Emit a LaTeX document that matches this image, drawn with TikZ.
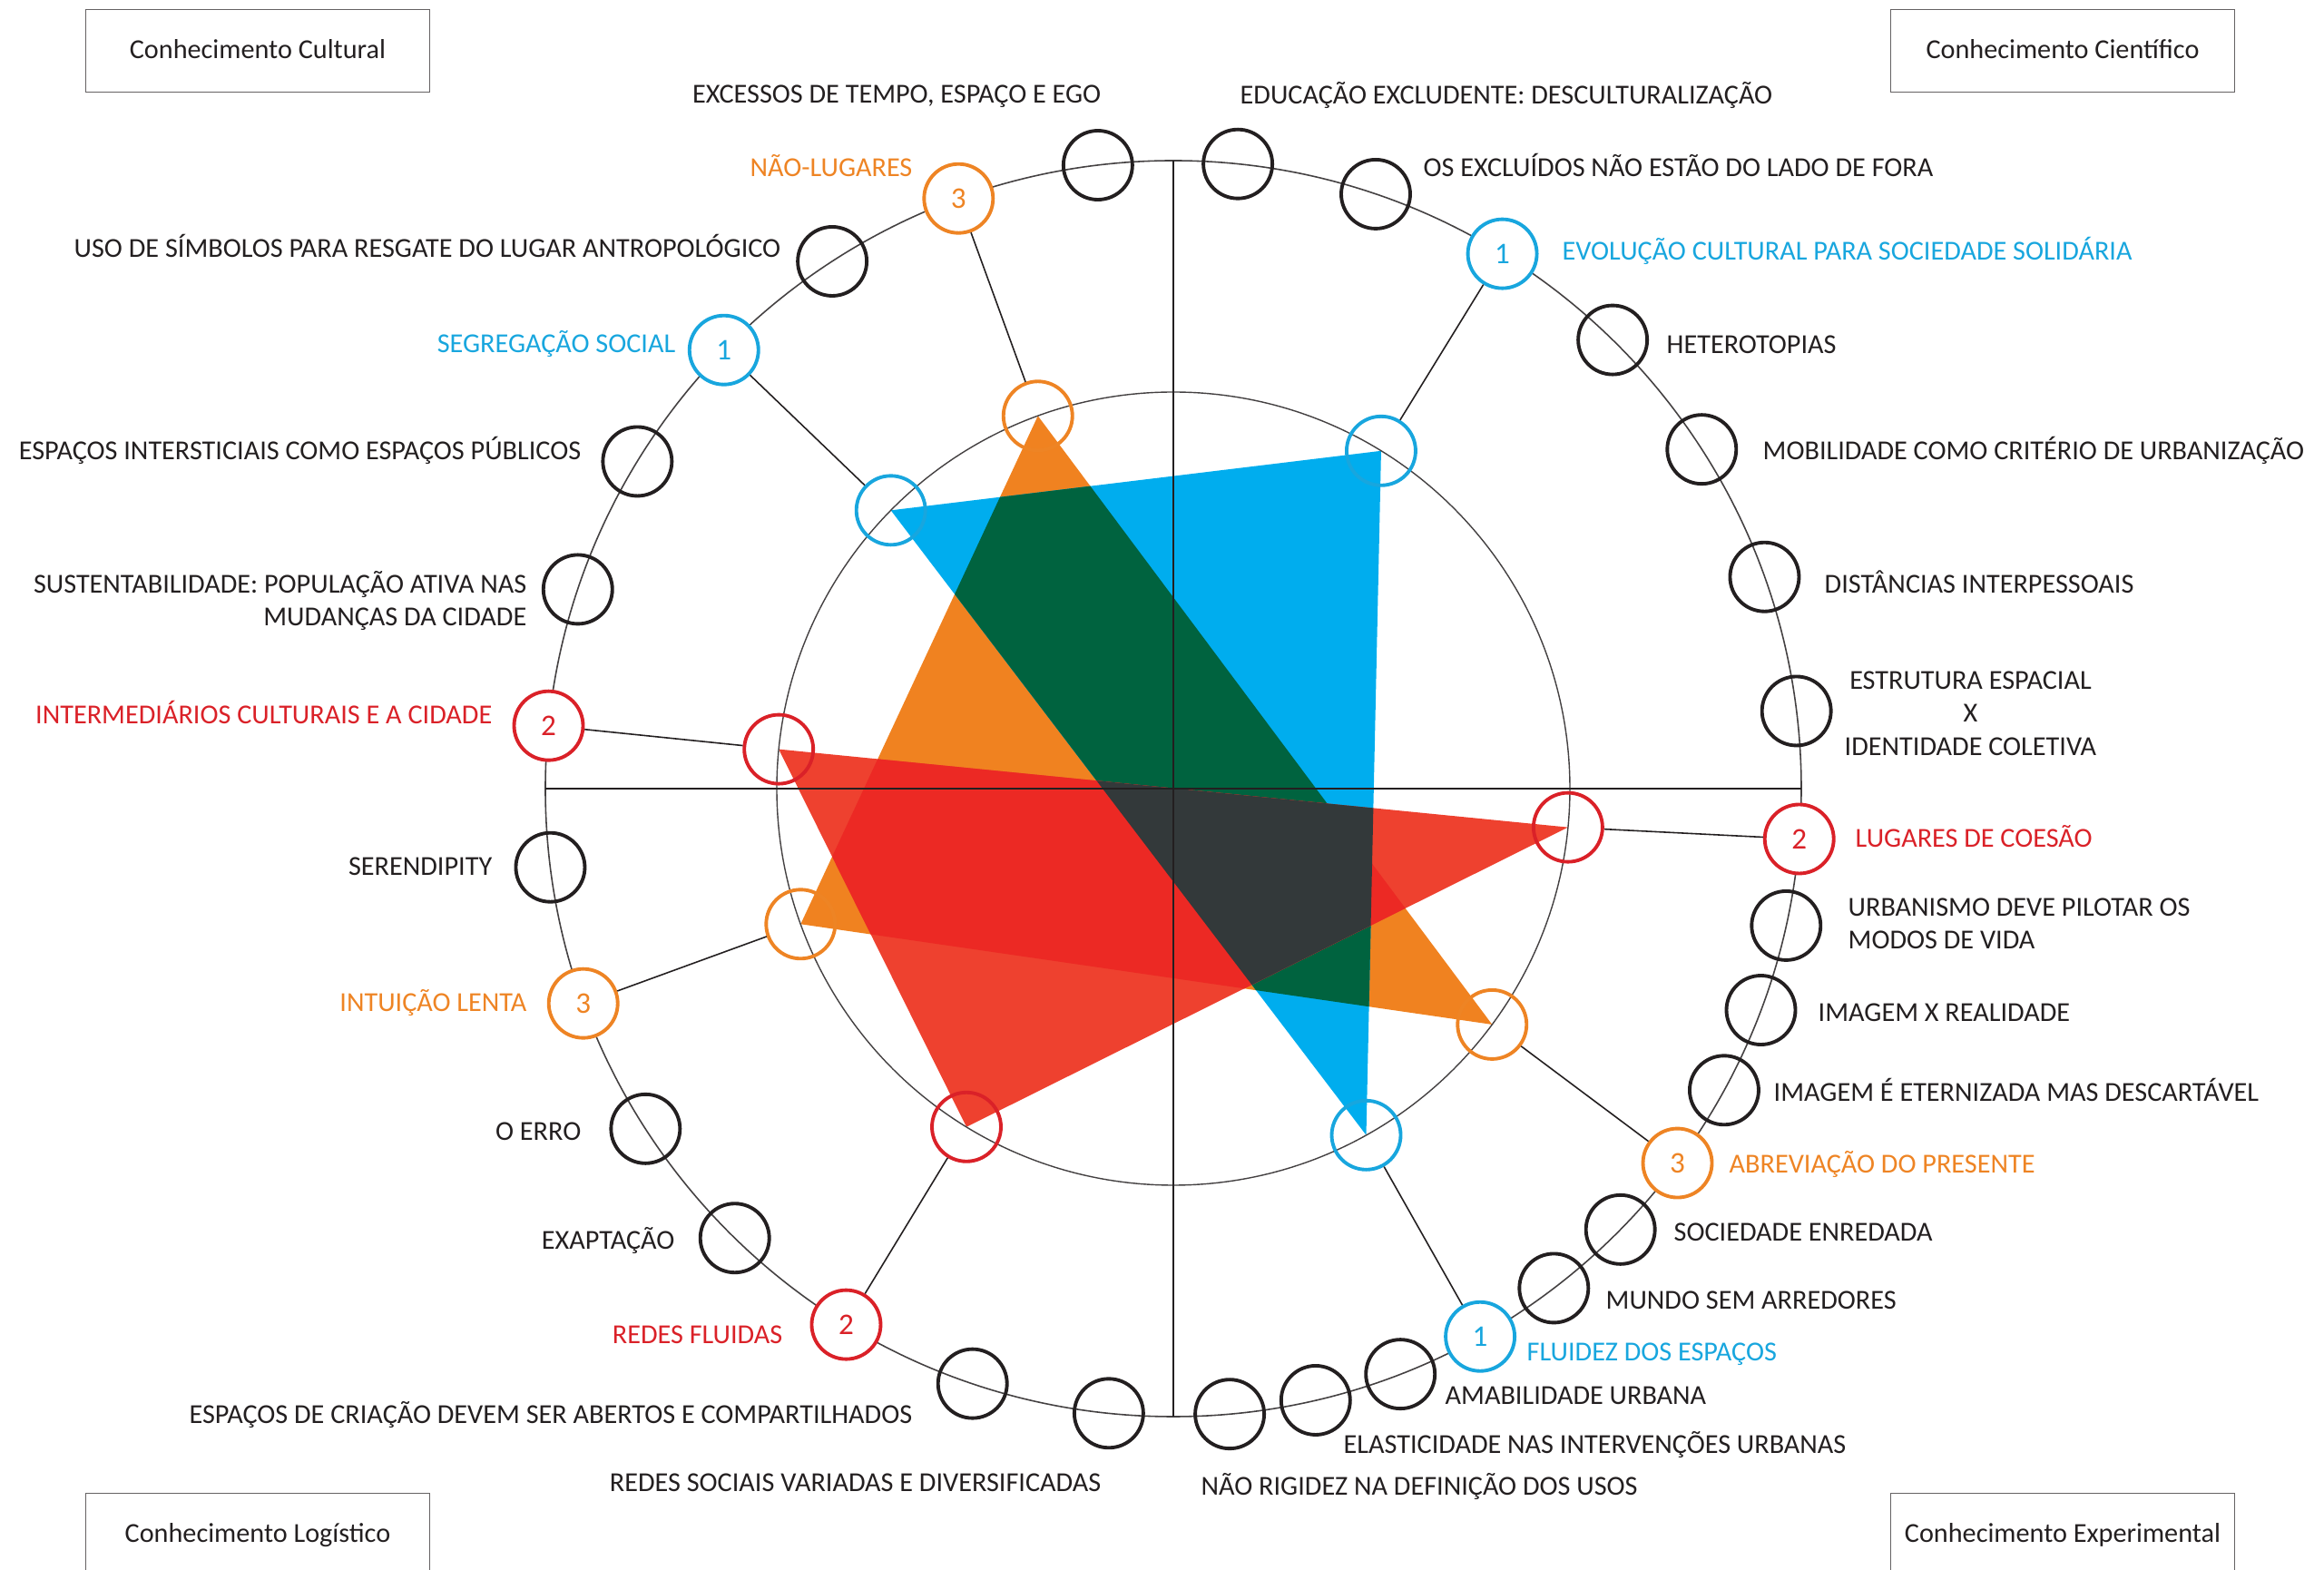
\documentclass[tikz,border=0pt]{standalone}
\usepackage{fontspec}
\setmainfont{Carlito}
\definecolor{ink}{RGB}{35,31,32}
\definecolor{oran}{RGB}{238,132,36}
\definecolor{azul}{RGB}{24,166,222}
\definecolor{verm}{RGB}{218,33,40}
\definecolor{trioran}{RGB}{240,130,32}
\definecolor{triazul}{RGB}{0,173,238}
\definecolor{trimata}{RGB}{0,99,63}
\definecolor{trived}{RGB}{238,65,47}
\definecolor{trifund}{RGB}{236,41,36}
\definecolor{trichumbo}{RGB}{51,57,58}
\begin{document}
\begin{tikzpicture}[
    ring/.style={circle,draw=ink,line width=1.1pt,minimum size=0.76cm,inner sep=0pt},
    num/.style={ring,draw=#1,fill=white,text=#1,font=\fontsize{9.4}{11}\selectfont},
    hub/.style={ring,draw=#1},
    lbl/.style={inner sep=0pt,text=ink,font=\fontsize{8.6}{10.4}\selectfont,text height=1.6ex,text depth=0.47ex},
    blk/.style={inner sep=0pt,text=ink,font=\fontsize{8.6}{10.4}\selectfont},
    card/.style={draw=ink!70,line width=0.5pt,minimum width=3.79cm,minimum height=0.91cm,inner sep=0pt,font=\fontsize{8.6}{10}\selectfont,text=ink,text height=1.6ex,text depth=0.6ex},
    link/.style={draw=ink,line width=0.45pt}
  ]
        \useasboundingbox (-12.93,-8.61) rectangle (12.68,8.69);
        \clip (-12.93,-8.61) rectangle (12.68,8.69);
        % vertices on the inner circle
        \coordinate (po) at (109.97:4.37);
        \coordinate (pol) at (199.98:4.37);
        \coordinate (por) at (-36.5:4.37);
        \coordinate (pbl) at (135.43:4.37);
        \coordinate (pbr) at (58.4:4.37);
        \coordinate (pbb) at (-60.9:4.37);
        \coordinate (prl) at (174.3:4.37);
        \coordinate (prr) at (-5.6:4.37);
        \coordinate (prb) at (238.55:4.37);
        % triangles
        \fill[trioran] (po) -- (pol) -- (por) -- cycle;
        \fill[triazul] (pbl) -- (pbr) -- (pbb) -- cycle;
        \begin{scope}
          \clip (po) -- (pol) -- (por) -- cycle;
          \fill[trimata] (pbl) -- (pbr) -- (pbb) -- cycle;
        \end{scope}
        \fill[trived] (prl) -- (prr) -- (prb) -- cycle;
        \begin{scope}
          \clip (prl) -- (prr) -- (prb) -- cycle;
          \fill[trifund] (po) -- (pol) -- (por) -- cycle;
          \fill[trichumbo] (pbl) -- (pbr) -- (pbb) -- cycle;
        \end{scope}
        % circles and axes
        \draw[ink!85,line width=0.45pt] (0,0) circle (6.92);
        \draw[ink!85,line width=0.4pt] (0,0) circle (4.37);
        \draw[ink,line width=0.5pt] (180:6.92) -- (0:6.92);
        \draw[ink,line width=0.5pt] (90:6.92) -- (270:6.92);
        % outer ring
        \draw (84.1:6.92) node[ring](ed){};
        \draw (96.9:6.92) node[ring](ex){};
        \draw (110.0:6.92) node[num=oran](nl){3};
        \draw (122.9:6.92) node[ring](us){};
        \draw (135.7:6.92) node[num=azul](sg){1};
        \draw (148.6:6.92) node[ring](ei){};
        \draw (161.5:6.92) node[ring](su){};
        \draw (174.25:6.92) node[num=verm](ic){2};
        \draw (187.2:6.92) node[ring](se){};
        \draw (200.0:6.92) node[num=oran](il){3};
        \draw (212.8:6.92) node[ring](oe){};
        \draw (225.7:6.92) node[ring](ea){};
        \draw (238.6:6.92) node[num=verm](rf){2};
        \draw (251.35:6.92) node[ring](ec){};
        \draw (264.1:6.92) node[ring](rs){};
        \draw (71.2:6.92) node[ring](ox){};
        \draw (58.4:6.92) node[num=azul](ev){1};
        \draw (45.6:6.92) node[ring](he){};
        \draw (32.7:6.92) node[ring](mo){};
        \draw (19.7:6.92) node[ring](di){};
        \draw (7.1:6.92) node[ring](es){};
        \draw (-4.6:6.92) node[num=verm](lc){2};
        \draw (-12.6:6.92) node[ring](ur){};
        \draw (-20.65:6.92) node[ring](ir){};
        \draw (-28.7:6.92) node[ring](ie){};
        \draw (-36.6:6.92) node[num=oran](ab){3};
        \draw (-44.6:6.92) node[ring](so){};
        \draw (-52.7:6.92) node[ring](mu){};
        \draw (-60.75:6.92) node[num=azul](fl){1};
        \draw (-68.8:6.92) node[ring](am){};
        \draw (-76.9:6.92) node[ring](el){};
        \draw (-84.85:6.92) node[ring](nr){};
        % inner ring
        \draw (po) node[hub=oran](ipo){};
        \draw (pol) node[hub=oran](ipol){};
        \draw (por) node[hub=oran](ipor){};
        \draw (pbl) node[hub=azul](ipbl){};
        \draw (pbr) node[hub=azul](ipbr){};
        \draw (pbb) node[hub=azul](ipbb){};
        \draw (prl) node[hub=verm](iprl){};
        \draw (prr) node[hub=verm](iprr){};
        \draw (prb) node[hub=verm](iprb){};
        \draw[link]
          (nl) -- (ipo)
          (il) -- (ipol)
          (ab) -- (ipor)
          (sg) -- (ipbl)
          (ev) -- (ipbr)
          (fl) -- (ipbb)
          (ic) -- (iprl)
          (lc) -- (iprr)
          (rf) -- (iprb)
        ;
        % labels, right half
        \draw (0.73,7.64) node[lbl,anchor=west](ted){EDUCAÇÃO EXCLUDENTE: DESCULTURALIZAÇÃO};
        \draw (2.75,6.84) node[lbl,anchor=west](tox){OS EXCLUÍDOS NÃO ESTÃO DO LADO DE FORA};
        \draw (4.28,5.92) node[lbl,anchor=west,text=azul](tev){EVOLUÇÃO CULTURAL PARA SOCIEDADE SOLIDÁRIA};
        \draw (5.43,4.89) node[lbl,anchor=west](the){HETEROTOPIAS};
        \draw (6.49,3.72) node[lbl,anchor=west](tmo){MOBILIDADE COMO CRITÉRIO DE URBANIZAÇÃO};
        \draw (7.17,2.25) node[lbl,anchor=west](tdi){DISTÂNCIAS INTERPESSOAIS};
        \draw (7.39,0.83) node[blk,anchor=west,align=center](tes){ESTRUTURA ESPACIAL\\X\\IDENTIDADE COLETIVA};
        \draw (7.51,-0.555) node[lbl,anchor=west,text=verm](tlc){LUGARES DE COESÃO};
        \draw (7.43,-1.49) node[blk,anchor=west,align=left](tur){URBANISMO DEVE PILOTAR OS\\MODOS DE VIDA};
        \draw (7.10,-2.47) node[lbl,anchor=west](tir){IMAGEM X REALIDADE};
        \draw (6.61,-3.35) node[lbl,anchor=west](tie){IMAGEM É ETERNIZADA MAS DESCARTÁVEL};
        \draw (6.12,-4.14) node[lbl,anchor=west,text=oran](tab){ABREVIAÇÃO DO PRESENTE};
        \draw (5.51,-4.89) node[lbl,anchor=west](tso){SOCIEDADE ENREDADA};
        \draw (4.76,-5.64) node[lbl,anchor=west](tmu){MUNDO SEM ARREDORES};
        \draw (3.89,-6.21) node[lbl,anchor=west,text=azul](tfl){FLUIDEZ DOS ESPAÇOS};
        \draw (2.99,-6.69) node[lbl,anchor=west](tam){AMABILIDADE URBANA};
        \draw (1.87,-7.23) node[lbl,anchor=west](tel){ELASTICIDADE NAS INTERVENÇÕES URBANAS};
        \draw (0.30,-7.69) node[lbl,anchor=west](tnr){NÃO RIGIDEZ NA DEFINIÇÃO DOS USOS};
        % labels, left half
        \draw (-0.79,7.65) node[lbl,anchor=east](tex){EXCESSOS DE TEMPO, ESPAÇO E EGO};
        \draw (-2.87,6.84) node[lbl,anchor=east,text=oran](tnl){NÃO-LUGARES};
        \draw (-4.32,5.95) node[lbl,anchor=east](tus){USO DE SÍMBOLOS PARA RESGATE DO LUGAR ANTROPOLÓGICO};
        \draw (-5.48,4.90) node[lbl,anchor=east,text=azul](tsg){SEGREGAÇÃO SOCIAL};
        \draw (-6.52,3.72) node[lbl,anchor=east](tei){ESPAÇOS INTERSTICIAIS COMO ESPAÇOS PÚBLICOS};
        \draw (-7.12,2.07) node[blk,anchor=east,align=right](tsu){SUSTENTABILIDADE: POPULAÇÃO ATIVA NAS\\MUDANÇAS DA CIDADE};
        \draw (-7.50,0.81) node[lbl,anchor=east,text=verm](tic){INTERMEDIÁRIOS CULTURAIS E A CIDADE};
        \draw (-7.50,-0.86) node[lbl,anchor=east](tse){SERENDIPITY};
        \draw (-7.12,-2.36) node[lbl,anchor=east,text=oran](til){INTUIÇÃO LENTA};
        \draw (-6.52,-3.78) node[lbl,anchor=east](toe){O ERRO};
        \draw (-5.49,-4.98) node[lbl,anchor=east](tea){EXAPTAÇÃO};
        \draw (-4.30,-6.02) node[lbl,anchor=east,text=verm](trf){REDES FLUIDAS};
        \draw (-2.87,-6.90) node[lbl,anchor=east](tec){ESPAÇOS DE CRIAÇÃO DEVEM SER ABERTOS E COMPARTILHADOS};
        \draw (-0.79,-7.65) node[lbl,anchor=east](trs){REDES SOCIAIS VARIADAS E DIVERSIFICADAS};
        % corner boxes
        \draw (-10.09,8.13) node[card](cc){Conhecimento Cultural};
        \draw (9.80,8.13) node[card](ci){Conhecimento Científico};
        \draw (-10.09,-8.22) node[card](cl){Conhecimento Logístico};
        \draw (9.80,-8.22) node[card](ce){Conhecimento Experimental};
\end{tikzpicture}
\end{document}
